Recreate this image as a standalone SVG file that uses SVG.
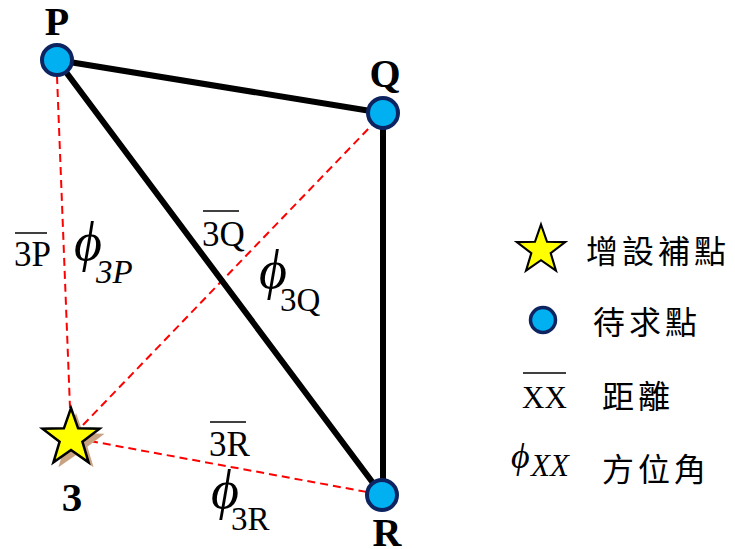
<svg xmlns="http://www.w3.org/2000/svg" width="735" height="549" viewBox="0 0 735 549">
<defs>
<style>
.edge{stroke:#000;stroke-width:6;fill:none;stroke-linecap:round}
.dash{stroke:#ff0000;stroke-width:2;stroke-dasharray:8,5;fill:none}
.pt{fill:#00b0f0;stroke:#0d2461;stroke-width:4}
.star{fill:#ffff00;stroke:#000;stroke-width:2.5;stroke-linejoin:miter}
.shadow{fill:#c9a282}
.lbl{font-family:"Liberation Serif","Times New Roman",serif;font-weight:bold;font-size:40px;fill:#000;text-anchor:middle}
.m{font-family:"Liberation Serif","Times New Roman",serif;fill:#000}
.lab{font-size:35px}
.phi{font-style:italic;font-size:54px}
.sub{font-size:33px}
.ov{stroke:#000;stroke-width:1.5}
.cjk{font-family:"Noto Sans CJK TC","Noto Sans CJK SC",sans-serif;font-size:32px;fill:#000;letter-spacing:4px}
</style>
<polygon id="starShape" points="0,-30 7.1,-9.7 28.5,-9.3 11.4,3.7 17.6,24.3 0,12 -17.6,24.3 -11.4,3.7 -28.5,-9.3 -7.1,-9.7"/>
</defs>
<rect width="735" height="549" fill="#fff"/>
<g id="connectors">
<line class="dash" x1="57" y1="76" x2="70" y2="408"/>
<line class="dash" x1="83" y1="425" x2="372" y2="125"/>
<line class="dash" x1="90" y1="441" x2="367" y2="492"/>
<line class="edge" x1="57" y1="60" x2="383" y2="113"/>
<line class="edge" x1="57" y1="60" x2="382" y2="495"/>
<line class="edge" x1="383" y1="113" x2="383" y2="495"/>
</g>
<g id="node-P">
<circle class="pt" cx="57" cy="60" r="15"/>
<text class="lbl" x="57" y="35">P</text>
</g>
<g id="node-Q">
<circle class="pt" cx="383" cy="113" r="15"/>
<text class="lbl" x="385" y="87">Q</text>
</g>
<g id="node-R">
<circle class="pt" cx="382" cy="495" r="15"/>
<text class="lbl" x="387" y="546">R</text>
</g>
<g id="node-3">
<use href="#starShape" class="shadow" transform="translate(76,443)"/>
<use href="#starShape" class="star" transform="translate(71,438)"/>
<text class="lbl" x="72" y="511" style="font-size:41px">3</text>
</g>
<g id="label-3P">
<line class="ov" x1="15" y1="233" x2="47" y2="233"/>
<text class="m lab" x="14" y="266">3P</text>
<text class="m phi" x="74" y="260">ϕ</text>
<text class="m sub" x="96" y="283" font-style="italic">3P</text>
</g>
<g id="label-3Q">
<line class="ov" x1="203" y1="211" x2="239" y2="211"/>
<text class="m lab" x="202" y="246">3Q</text>
<text class="m phi" x="259" y="288">ϕ</text>
<text class="m sub" x="280" y="311">3Q</text>
</g>
<g id="label-3R">
<line class="ov" x1="210" y1="422" x2="246" y2="422"/>
<text class="m lab" x="209" y="456">3R</text>
<text class="m phi" x="211" y="508">ϕ</text>
<text class="m sub" x="231" y="530">3R</text>
</g>
<g id="legend">
<g id="legend-star">
<use href="#starShape" class="star" transform="translate(541,250) scale(0.85)"/>
<text class="cjk" x="586" y="263">增設補點</text>
</g>
<g id="legend-point">
<circle class="pt" cx="543" cy="320" r="12.5" style="stroke-width:3.5"/>
<text class="cjk" x="593" y="334">待求點</text>
</g>
<g id="legend-distance">
<line class="ov" x1="523" y1="373" x2="566" y2="373"/>
<text class="m" x="522" y="408" font-size="31">XX</text>
<text class="cjk" x="602" y="408">距離</text>
</g>
<g id="legend-azimuth">
<text class="m" x="511" y="468" font-size="36" font-style="italic">ϕ</text>
<text class="m" x="531" y="476" font-size="31" font-style="italic">XX</text>
<text class="cjk" x="602" y="481">方位角</text>
</g>
</g>
</svg>
